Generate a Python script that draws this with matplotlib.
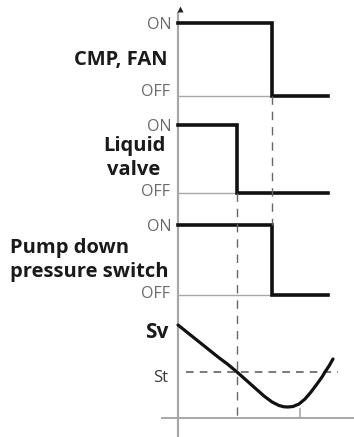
import matplotlib.pyplot as plt

# switching times (time units, 0 = start of pump down)
t_valve_off = 59
t_cmp_off = 94
t_end = 150
t_tick = 122

# on/off states of each output over time
cmp_t = [0, t_cmp_off, t_cmp_off, t_end]
cmp_state = [1, 1, 0, 0]
valve_t = [0, t_valve_off, t_valve_off, t_end]
valve_state = [1, 1, 0, 0]
pds_t = [0, t_cmp_off, t_cmp_off, t_end]
pds_state = [1, 1, 0, 0]

# suction pressure relative to the St setpoint
sv_t = [0, 10, 20, 30, 40, 50, 59, 68, 77, 86, 94, 101, 106, 110, 115, 121,
        127, 133, 139, 144, 147, 151, 155]
sv_p = [4.7, 3.9, 3.1, 2.3, 1.5, 0.75, 0.0, -0.8, -1.6, -2.4, -3.0, -3.35,
        -3.48, -3.5, -3.45, -3.2, -2.7, -2.0, -1.2, -0.5, 0.0, 0.6, 1.3]
st_level = 0.0

# vertical layout (pixels from top): (ON row, OFF row) per panel
rows = {"cmp": (23, 96), "valve": (125, 193), "pds": (225, 295)}
sv_zero_y = 372      # where St sits
sv_scale = 10        # px per pressure unit
base_y = 418         # time axis of pressure panel

AX_GREY = "#a8a8a8"
TXT_GREY = "#6a6a6a"
INK = "#111111"
LABEL = "#1a1a1a"

fig = plt.figure(figsize=(3.54, 4.37), dpi=100)
ax = fig.add_axes([0, 0, 1, 1])
ax.set_xlim(-178, 176)
ax.set_ylim(437, 0)
ax.axis("off")


def state_y(states, row):
    on_y, off_y = rows[row]
    return [off_y - s * (off_y - on_y) for s in states]


# vertical axis with arrow head
ax.plot([0, 0], [12, 437], color=AX_GREY, lw=1.6, solid_capstyle="butt")
ax.plot([1.5], [9], marker="^", ms=5, color="#222222", mec="none")

# off baselines
for row, tt in (("cmp", cmp_t), ("valve", valve_t), ("pds", pds_t)):
    ax.plot([0, tt[-1]], [rows[row][1]] * 2, color=AX_GREY, lw=1.0)

# step signals
ax.plot(cmp_t, state_y(cmp_state, "cmp"), color=INK, lw=2.6,
        solid_joinstyle="miter")
ax.plot(valve_t, state_y(valve_state, "valve"), color=INK, lw=2.6,
        solid_joinstyle="miter")
ax.plot(pds_t, state_y(pds_state, "pds"), color=INK, lw=2.6,
        solid_joinstyle="miter")

# pressure curve
ax.plot([-16, 176], [base_y, base_y], color=AX_GREY, lw=1.4)
ax.plot([t_tick, t_tick], [base_y - 9, base_y], color=AX_GREY, lw=1.2)
ax.plot([8, 160], [sv_zero_y - st_level * sv_scale] * 2, color="#555555",
        lw=1.1, dashes=(5, 4))
ax.plot(sv_t, [sv_zero_y - p * sv_scale for p in sv_p], color=INK, lw=2.3,
        solid_capstyle="round")

# event markers
ax.plot([t_valve_off] * 2, [rows["valve"][1], base_y + 2], color="#666666",
        lw=1.0, dashes=(6, 5))
ax.plot([t_cmp_off] * 2, [rows["cmp"][1], rows["pds"][0]], color="#666666",
        lw=1.0, dashes=(6, 5))

# ON / OFF tick labels
small = dict(ha="right", va="center", color=TXT_GREY, fontsize=11.5,
             family="Open Sans")
off_shift = {"cmp": -4, "valve": -1, "pds": -1}
for row in rows:
    on_y, off_y = rows[row]
    ax.text(-7, on_y + 2, "ON", **small)
    ax.text(-8, off_y + off_shift[row], "OFF", **small)

bold = dict(family="Open Sans", fontweight="bold", color=LABEL,
            fontsize=14.5, va="baseline")
ax.text(-10, 65, "CMP, FAN", ha="right", **bold)
ax.text(-44, 151, "Liquid", ha="center", **bold)
ax.text(-44, 175, "valve", ha="center", **bold)
ax.text(-168, 253, "Pump down", ha="left", **bold)
ax.text(-168, 277, "pressure switch", ha="left", **bold)
ax.text(-10, 338, "Sv", ha="right", **dict(bold, fontsize=15))
ax.text(-10, 382, "St", ha="right", va="baseline", color="#3a3a3a",
        fontsize=12, family="Open Sans")

fig.savefig("out.png", dpi=100)
